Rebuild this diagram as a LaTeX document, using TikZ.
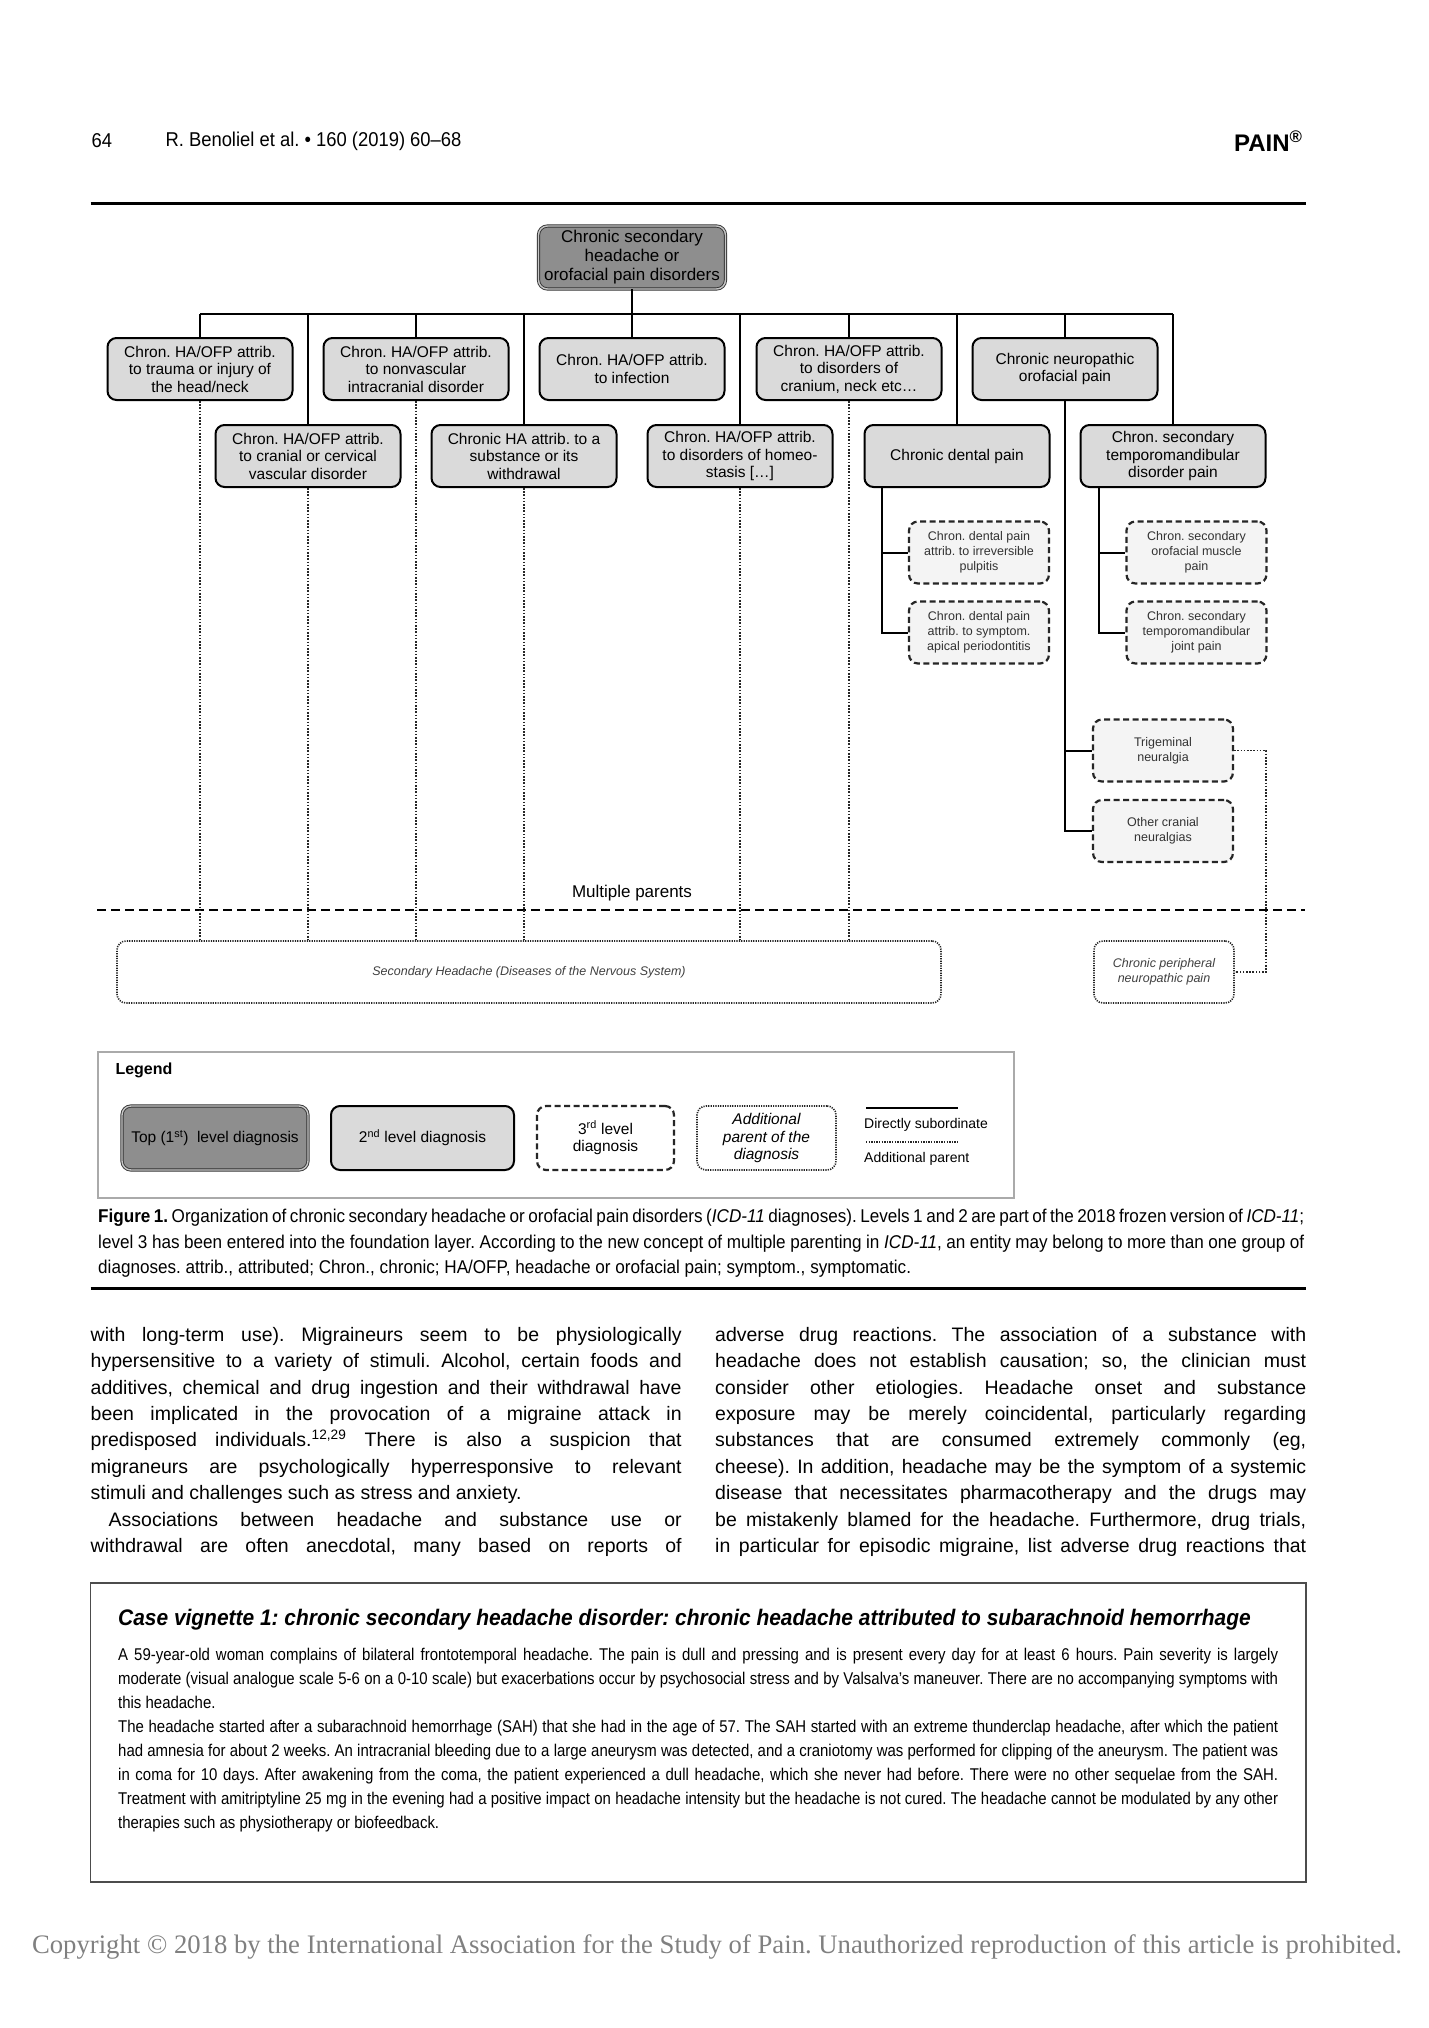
\documentclass[tikz,border=0pt]{standalone}
\usepackage{fontspec}
\setmainfont{Liberation Sans}
\newfontfamily\condfont[FakeStretch=0.88]{Liberation Sans}
\newfontfamily\capfont[FakeStretch=0.925]{Liberation Sans}
\newfontfamily\headfont[FakeStretch=0.92]{Liberation Sans}
\newfontfamily\vigtitlefont[FakeStretch=0.93]{Liberation Sans}
\newfontfamily\copyfont{Liberation Serif}
\usetikzlibrary{calc, positioning, backgrounds}
\frenchspacing

\definecolor{topGray}{RGB}{142,142,142}
\definecolor{secGray}{RGB}{218,218,218}
\definecolor{thirdGray}{RGB}{244,244,244}
\definecolor{legendGray}{RGB}{170,170,170}

\newcommand{\jline}[2]{\makebox[#1][s]{#2}}

\begin{document}
\begin{tikzpicture}[
	x=1pt, y=-1pt,
	font=\fontsize{15.5}{17.5}\selectfont,
	% Node styles
	topNode/.style={draw=black!80, double=gray!45, double distance=1.4pt, line width=0.9pt, fill=topGray, rounded corners=9pt, minimum width=187pt, minimum height=63pt, inner sep=0pt, align=center, font=\fontsize{17}{19}\selectfont},
	secNode/.style={draw=black, line width=2pt, fill=secGray, rounded corners=9pt, minimum width=185pt, minimum height=62pt, inner sep=0pt, align=center},
	thirdNode/.style={draw=black!85, line width=2.2pt, dash pattern=on 6pt off 3.5pt, fill=thirdGray, rounded corners=9pt, minimum width=140pt, minimum height=62pt, inner sep=0pt, align=center, text=black!80, font=\fontsize{12.5}{15}\selectfont},
	extraNode/.style={draw=black!85, line width=1.6pt, dash pattern=on 1.2pt off 1.2pt, fill=white, rounded corners=9pt, minimum height=62pt, inner sep=0pt, align=center, text=black!75, font=\fontsize{12.5}{15}\selectfont\itshape},
	% Line styles
	subLine/.style={line width=2pt, draw=black},
	extraLine/.style={line width=1.6pt, dash pattern=on 1.6pt off 1.6pt, draw=black!85},
	parentLine/.style={line width=2.8pt, dash pattern=on 9pt off 5pt, draw=black},
	textPanel/.style={align=left, inner sep=0pt, anchor=north west}
	]

	\fill[white] (0,0) rectangle (1428,2028);
	\useasboundingbox (0,0) rectangle (1428,2028);

	% =========================================================
	% 1. RUNNING HEAD
	% =========================================================
	\node[anchor=west, font=\headfont\fontsize{20}{22}\selectfont] (pageNo) at (88,141) {64};
	\node[anchor=west, font=\headfont\fontsize{20}{22}\selectfont] (runHead) at (162,141) {R. Benoliel et al. \textbullet{} 160 (2019) 60–68};
	\node[anchor=east, font=\bfseries\fontsize{24}{26}\selectfont] (journal) at (1306,141) {PAIN\textsuperscript{®}};
	\draw[line width=3pt] (90.5,204) -- (1306,204);

	% =========================================================
	% 2. THE HIERARCHY (levels 1 and 2)
	% =========================================================
	\node[topNode] (top) at (632,257.5) {Chronic secondary\\headache or\\orofacial pain disorders};

	\node[secNode] (trauma) at (200,369) {Chron. HA/OFP attrib.\\to trauma or injury of\\the head/neck};
	\node[secNode] (nonvasc) at (416,369) {Chron. HA/OFP attrib.\\to nonvascular\\intracranial disorder};
	\node[secNode] (infection) at (632,369) {Chron. HA/OFP attrib.\\to infection};
	\node[secNode] (cranium) at (849,369) {Chron. HA/OFP attrib.\\to disorders of\\cranium, neck etc…};
	\node[secNode] (neuro) at (1065,369) {Chronic neuropathic\\orofacial pain};

	\node[secNode] (vascular) at (308,456) {Chron. HA/OFP attrib.\\to cranial or cervical\\vascular disorder};
	\node[secNode] (substance) at (524,456) {Chronic HA attrib. to a\\substance or its\\withdrawal};
	\node[secNode] (homeo) at (740,456) {Chron. HA/OFP attrib.\\to disorders of homeo-\\stasis […]};
	\node[secNode] (dental) at (957,456) {Chronic dental pain};
	\node[secNode] (tmd) at (1173,456) {Chron. secondary\\temporomandibular\\disorder pain};

	% bus under the top node
	\coordinate (busL) at (200,314);
	\coordinate (busR) at (1173,314);
	\draw[subLine] (top.south) -- (top.south |- busL);
	\draw[subLine] (busL) -- (busR);
	\foreach \n in {trauma,vascular,nonvasc,substance,infection,homeo,cranium,dental,neuro,tmd}
		\draw[subLine] (\n.north) -- (\n.north |- busL);

	% =========================================================
	% 3. LEVEL 3 (foundation layer)
	% =========================================================
	\node[thirdNode] (pulpitis) at (979,552.5) {Chron. dental pain\\attrib. to irreversible\\pulpitis};
	\node[thirdNode] (apical) at (979,632.5) {Chron. dental pain\\attrib. to symptom.\\apical periodontitis};
	\node[thirdNode] (muscle) at (1196.5,552.5) {Chron. secondary\\orofacial muscle\\pain};
	\node[thirdNode] (joint) at (1196.5,632.5) {Chron. secondary\\temporomandibular\\joint pain};
	\node[thirdNode] (trigem) at (1163,750.5) {Trigeminal\\neuralgia};
	\node[thirdNode] (cranial) at (1163,831) {Other cranial\\neuralgias};

	\draw[subLine] ([xshift=-75pt]dental.south) |- (pulpitis.west);
	\draw[subLine] ([xshift=-75pt]dental.south) |- (apical.west);
	\draw[subLine] ([xshift=-74pt]tmd.south) |- (muscle.west);
	\draw[subLine] ([xshift=-74pt]tmd.south) |- (joint.west);
	\draw[subLine] (neuro.south) |- (trigem.west);
	\draw[subLine] (neuro.south) |- (cranial.west);

	% =========================================================
	% 4. MULTIPLE PARENTS
	% =========================================================
	\node[font=\fontsize{17}{19}\selectfont] (mpLabel) at (632,893) {Multiple parents};
	\coordinate (mpL) at (97,910);
	\coordinate (mpR) at (1305,910);
	\draw[parentLine] (mpL) -- (mpR);

	\node[extraNode, minimum width=824pt] (secHA) at (529,972) {Secondary Headache (Diseases of the Nervous System)};
	\node[extraNode, minimum width=140pt] (periph) at (1164,972) {Chronic peripheral\\neuropathic pain};

	\foreach \n in {trauma,vascular,nonvasc,substance,homeo,cranium}
		\draw[extraLine] (\n.south) -- (\n.south |- secHA.north);
	\draw[extraLine] (trigem.east) -- ++(32,0) |- (periph.east);

	% =========================================================
	% 5. LEGEND
	% =========================================================
	\node[draw=legendGray, line width=2pt, minimum width=916pt, minimum height=146pt, inner sep=0pt] (legendBox) at (556,1125) {};
	\node[anchor=west, font=\bfseries\fontsize{16}{18}\selectfont] (legendTitle) at (112,1070) {Legend};

	\node[topNode, minimum width=186pt, minimum height=64pt, font=\fontsize{15.5}{17.5}\selectfont] (keyTop) at (215,1138) {Top (1\textsuperscript{st})\ \ level diagnosis};
	\node[secNode, minimum width=183pt, minimum height=64pt] (keySec) at (422.5,1138) {2\textsuperscript{nd} level diagnosis};
	\node[thirdNode, fill=white, text=black, minimum width=137pt, minimum height=64pt, font=\fontsize{15.5}{17.5}\selectfont] (keyThird) at (605.5,1138) {3\textsuperscript{rd} level\\diagnosis};
	\node[extraNode, text=black, minimum width=139pt, minimum height=64pt, font=\fontsize{15.5}{17.5}\selectfont\itshape] (keyExtra) at (766.5,1138) {Additional\\parent of the\\diagnosis};

	\coordinate (keySubA) at (866,1108);
	\coordinate (keySubB) at (958,1108);
	\draw[subLine] (keySubA) -- (keySubB);
	\node[anchor=west, inner sep=0pt, font=\fontsize{14}{16}\selectfont] (keySubText) at (864,1125) {Directly subordinate};
	\coordinate (keyAddA) at (866,1142);
	\coordinate (keyAddB) at (958,1142);
	\draw[extraLine, line width=1.3pt, dash pattern=on 1.3pt off 1.3pt] (keyAddA) -- (keyAddB);
	\node[anchor=west, inner sep=0pt, font=\fontsize{14}{16}\selectfont] (keyAddText) at (864,1159) {Additional parent};

	% =========================================================
	% 6. CAPTION
	% =========================================================
	\node[textPanel, font=\capfont\fontsize{18.5}{25.5}\selectfont] (caption) at (98,1209) {
		\jline{1206pt}{\textbf{Figure 1.} Organization of chronic secondary headache or orofacial pain disorders (\textit{ICD-11} diagnoses). Levels 1 and 2 are part of the 2018 frozen version of \textit{ICD-11};}\\
		\jline{1206pt}{level 3 has been entered into the foundation layer. According to the new concept of multiple parenting in \textit{ICD-11}, an entity may belong to more than one group of}\\
		diagnoses. attrib., attributed; Chron., chronic; HA/OFP, headache or orofacial pain; symptom., symptomatic.
	};
	\draw[line width=3pt] (90.5,1288) -- (1306,1288);

	% =========================================================
	% 7. BODY TEXT (two columns)
	% =========================================================
	\node[textPanel, font=\fontsize{19.5}{26.4}\selectfont] (colLeft) at (90.5,1327) {
		\jline{591pt}{with long-term use). Migraineurs seem to be physiologically}\\
		\jline{591pt}{hypersensitive to a variety of stimuli. Alcohol, certain foods and}\\
		\jline{591pt}{additives, chemical and drug ingestion and their withdrawal have}\\
		\jline{591pt}{been implicated in the provocation of a migraine attack in}\\
		\jline{591pt}{predisposed individuals.\textsuperscript{12,29} There is also a suspicion that}\\
		\jline{591pt}{migraneurs are psychologically hyperresponsive to relevant}\\
		stimuli and challenges such as stress and anxiety.\\
		\jline{591pt}{\hspace*{18pt}Associations between headache and substance use or}\\
		\jline{591pt}{withdrawal are often anecdotal, many based on reports of}
	};
	\node[textPanel, font=\fontsize{19.5}{26.4}\selectfont] (colRight) at (715,1327) {
		\jline{591pt}{adverse drug reactions. The association of a substance with}\\
		\jline{591pt}{headache does not establish causation; so, the clinician must}\\
		\jline{591pt}{consider other etiologies. Headache onset and substance}\\
		\jline{591pt}{exposure may be merely coincidental, particularly regarding}\\
		\jline{591pt}{substances that are consumed extremely commonly (eg,}\\
		\jline{591pt}{cheese). In addition, headache may be the symptom of a systemic}\\
		\jline{591pt}{disease that necessitates pharmacotherapy and the drugs may}\\
		\jline{591pt}{be mistakenly blamed for the headache. Furthermore, drug trials,}\\
		\jline{591pt}{in particular for episodic migraine, list adverse drug reactions that}
	};

	% =========================================================
	% 8. CASE VIGNETTE
	% =========================================================
	\node[draw=black!70, line width=1.8pt, minimum width=1215.5pt, minimum height=299pt, inner sep=0pt] (vignetteBox) at (698.25,1732.5) {};
	\node[anchor=west, inner sep=0pt, font=\vigtitlefont\bfseries\itshape\fontsize{22.5}{25}\selectfont] (vignetteTitle) at (118,1619.5) {Case vignette 1: chronic secondary headache disorder: chronic headache attributed to subarachnoid hemorrhage};
	\node[textPanel, font=\condfont\fontsize{17}{24}\selectfont] (vignetteText) at (118,1648) {
		\jline{1160pt}{A 59-year-old woman complains of bilateral frontotemporal headache. The pain is dull and pressing and is present every day for at least 6 hours. Pain severity is largely}\\
		\jline{1160pt}{moderate (visual analogue scale 5-6 on a 0-10 scale) but exacerbations occur by psychosocial stress and by Valsalva’s maneuver. There are no accompanying symptoms with}\\
		this headache.\\
		\jline{1160pt}{The headache started after a subarachnoid hemorrhage (SAH) that she had in the age of 57. The SAH started with an extreme thunderclap headache, after which the patient}\\
		\jline{1160pt}{had amnesia for about 2 weeks. An intracranial bleeding due to a large aneurysm was detected, and a craniotomy was performed for clipping of the aneurysm. The patient was}\\
		\jline{1160pt}{in coma for 10 days. After awakening from the coma, the patient experienced a dull headache, which she never had before. There were no other sequelae from the SAH.}\\
		\jline{1160pt}{Treatment with amitriptyline 25 mg in the evening had a positive impact on headache intensity but the headache is not cured. The headache cannot be modulated by any other}\\
		therapies such as physiotherapy or biofeedback.
	};

	% =========================================================
	% 9. COPYRIGHT LINE
	% =========================================================
	\node[font=\copyfont\fontsize{26.7}{28}\selectfont, text=black!50] (copyNote) at (717,1947) {Copyright © 2018 by the International Association for the Study of Pain. Unauthorized reproduction of this article is prohibited.};

\end{tikzpicture}
\end{document}
